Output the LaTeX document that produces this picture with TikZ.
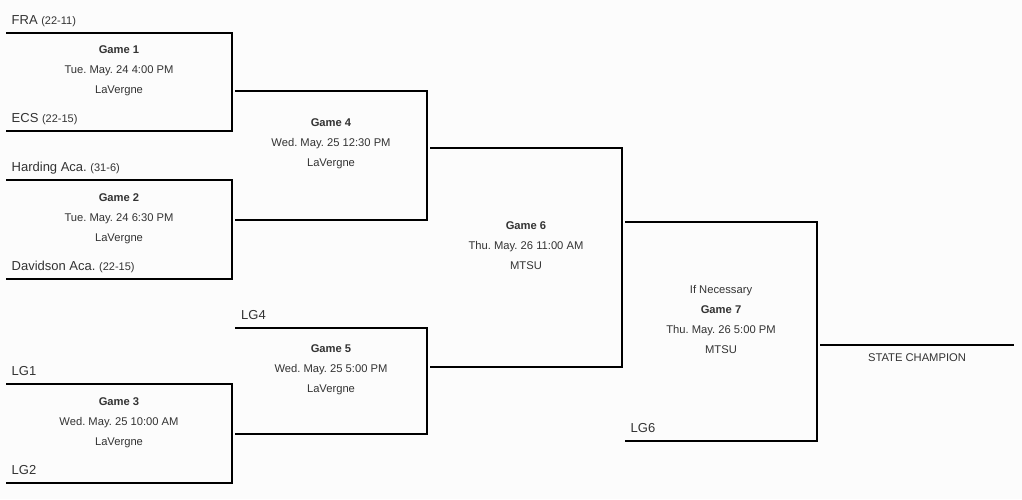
\documentclass[tikz,border=0pt]{standalone}
\usepackage{fontspec}
\setmainfont{Liberation Sans}
\frenchspacing
\definecolor{txt}{RGB}{51,51,51}
\definecolor{bg}{RGB}{252,252,252}
\tikzset{
  brk/.style={line width=1.1pt},
  game/.style={align=center, text=txt, inner sep=0pt, font=\fontsize{11.2}{20}\selectfont},
  team/.style={anchor=base west, text=txt, inner sep=0pt, font=\fontsize{13}{13}\selectfont},
}
\newcommand{\rec}[1]{{\fontsize{11}{11}\selectfont #1}}
\begin{document}
\begin{tikzpicture}[x=1pt, y=-1pt]
\fill[bg] (0,0) rectangle (1022,499);
\useasboundingbox (0,0) rectangle (1022,499);
% brackets: game / left / right / top / bottom
\foreach \n/\xl/\xr/\yt/\yb in {1/6/232/33/131, 2/6/232/180/279, 3/6/232/384/483,
  4/235/427/91/220, 5/235/427/328/434, 6/430/622/148/367, 7/625/817/222/441}
  \draw[brk] (\xl,\yt) -| (\xr,\yb) -- (\xl,\yb);
\draw[brk] (820,345) -- (1014,345);
% teams
\node[team] (fra) at (11.5,24.3) {FRA \rec{(22-11)}};
\node[team] (ecs) at (11.5,122.7) {ECS \rec{(22-15)}};
\node[team] (har) at (11.5,171.7) {Harding Aca. \rec{(31-6)}};
\node[team] (dav) at (11.5,270.7) {Davidson Aca. \rec{(22-15)}};
\node[team] (lg1) at (11.5,375.7) {LG1};
\node[team] (lg2) at (11.5,474.3) {LG2};
\node[team] (lg4) at (241,319.3) {LG4};
\node[team] (lg6) at (630.5,432.3) {LG6};
% games
\node[game] (g1) at (119,70.7) {\textbf{Game 1}\\Tue. May. 24 4:00 PM\\LaVergne};
\node[game] (g2) at (119,218.7) {\textbf{Game 2}\\Tue. May. 24 6:30 PM\\LaVergne};
\node[game] (g3) at (119,422.3) {\textbf{Game 3}\\Wed. May. 25 10:00 AM\\LaVergne};
\node[game] (g4) at (331,144) {\textbf{Game 4}\\Wed. May. 25 12:30 PM\\LaVergne};
\node[game] (g5) at (331,369.7) {\textbf{Game 5}\\Wed. May. 25 5:00 PM\\LaVergne};
\node[game] (g6) at (526,245.3) {\textbf{Game 6}\\Thu. May. 26 11:00 AM\\MTSU};
\node[game] (g7) at (721,319.7) {If Necessary\\\textbf{Game 7}\\Thu. May. 26 5:00 PM\\MTSU};
\node[game, anchor=base] (champ) at (917,361.7) {STATE CHAMPION};
\end{tikzpicture}
\end{document}
